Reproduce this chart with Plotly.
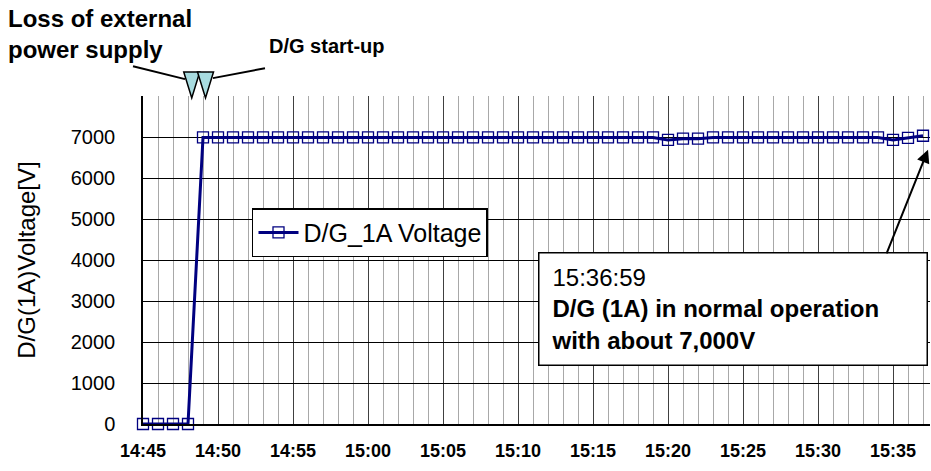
import pandas as pd
import plotly.graph_objects as go

# D/G (1A) terminal voltage, one sample per minute from 14:45 to 15:37
times = pd.date_range("2011-03-11 14:45", "2011-03-11 15:37", freq="1min")
voltage = [
    0, 0, 0, 0,                                    # 14:45 - 14:48
    6990, 6990, 6990, 6990, 6990, 6990,            # 14:49 - 14:54
    6990, 6990, 6990, 6990, 6990, 6990,            # 14:55 - 15:00
    6990, 6990, 6990, 6990, 6990, 6990,            # 15:01 - 15:06
    6990, 6990, 6990, 6990, 6990, 6990,            # 15:07 - 15:12
    6990, 6990, 6990, 6990, 6990, 6990,            # 15:13 - 15:18
    6990, 6930, 6960, 6960, 6990, 6990,            # 15:19 - 15:24
    6990, 6990, 6990, 6990, 6990, 6990,            # 15:25 - 15:30
    6990, 6990, 6990, 6990, 6930, 6980,            # 15:31 - 15:36
    7030,                                          # 15:37
]

# events marked with triangles above the plot
event_times = ["2011-03-11 14:48:15", "2011-03-11 14:49:10"]

y_ticks = [0, 1000, 2000, 3000, 4000, 5000, 6000, 7000]

NAVY = "#000080"
FONT = "Liberation Sans, Arial, sans-serif"

fig = go.Figure()
fig.add_trace(
    go.Scatter(
        x=times,
        y=voltage,
        name="D/G_1A Voltage",
        mode="lines+markers",
        line=dict(color=NAVY, width=3),
        marker=dict(symbol="square-open", size=11, color=NAVY,
                    line=dict(width=1.3, color=NAVY)),
        cliponaxis=False,
    )
)

# event triangles
for t in event_times:
    fig.add_shape(
        type="path",
        xref="x", yref="paper",
        xsizemode="pixel", ysizemode="pixel",
        xanchor=t, yanchor=1,
        path="M -8,24 L 8,24 L 0,-2 Z",
        fillcolor="#a8dce0",
        line=dict(color="black", width=1.5),
        layer="above",
    )

# callout lines for the event labels
fig.add_shape(type="line", xref="paper", yref="paper",
              x0=-0.0127, y0=1.0909, x1=0.0534, y1=1.0515,
              line=dict(color="black", width=2))
fig.add_shape(type="line", xref="paper", yref="paper",
              x0=0.0889, y0=1.0545, x1=0.155, y1=1.0848,
              line=dict(color="black", width=2))

fig.add_annotation(
    text="<b>Loss of external<br>power supply</b>",
    xref="paper", yref="paper", x=-0.1745, y=1.285,
    xanchor="left", yanchor="top", align="left", showarrow=False,
    font=dict(family=FONT, size=24, color="black"),
)
fig.add_annotation(
    text="<b>D/G start-up</b>",
    xref="paper", yref="paper", x=0.2338, y=1.1515,
    xanchor="center", yanchor="middle", showarrow=False,
    font=dict(family=FONT, size=20, color="black"),
)

# comment box and arrow to the last sample
fig.add_annotation(
    text="15:36:59<br><b>D/G (1A) in normal operation<br>with about 7,000V</b>",
    xref="paper", yref="paper", x=0.750, y=0.35,
    xanchor="center", yanchor="middle", align="left", showarrow=False,
    width=363, height=87, borderpad=12,
    bgcolor="white", bordercolor="black", borderwidth=1.5,
    font=dict(family=FONT, size=24, color="black"),
)
fig.add_annotation(
    text="", xref="paper", yref="paper", x=0.9975, y=0.836,
    ax=-42, ay=105, showarrow=True, standoff=0,
    arrowhead=2, arrowsize=1.3, arrowwidth=2, arrowcolor="black",
)

fig.update_layout(
    width=931, height=471,
    margin=dict(l=143, r=1, t=96, b=47, autoexpand=False),
    paper_bgcolor="white",
    plot_bgcolor="white",
    font=dict(family=FONT, color="black"),
    showlegend=True,
    legend=dict(
        x=0.1385, y=0.658, xanchor="left", yanchor="top",
        bgcolor="white", bordercolor="black", borderwidth=1.5,
        font=dict(family=FONT, size=25, color="black"),
        itemsizing="trace", itemwidth=40,
    ),
    xaxis=dict(
        range=["2011-03-11 14:45:00", "2011-03-11 15:37:28"],
        tickformat="%H:%M",
        dtick=300000,
        tick0="2011-03-11 14:45",
        showgrid=True, gridcolor="#404040", gridwidth=1,
        minor=dict(dtick=60000, showgrid=True, gridcolor="#a8a8a8", gridwidth=1),
        showline=True, linecolor="black", linewidth=1.5,
        ticks="", ticklabelstandoff=10,
        tickfont=dict(family=FONT, size=18, color="black", weight="bold"),
        zeroline=False, automargin=False,
    ),
    yaxis=dict(
        range=[0, 8000],
        tickvals=y_ticks,
        showgrid=True, gridcolor="black", gridwidth=1,
        showline=True, linecolor="black", linewidth=1.5,
        ticks="", ticklabelstandoff=22,
        tickfont=dict(family=FONT, size=20, color="black"),
        title=dict(text="D/G(1A)Voltage[V]", standoff=28,
                   font=dict(family=FONT, size=24, color="black")),
        zeroline=False, automargin=False,
    ),
)

# drop the browser's default page margin so the figure fills the window
fig.write_html("out.html", config={"displayModeBar": False},
               post_script="document.body.style.margin = '0';")
